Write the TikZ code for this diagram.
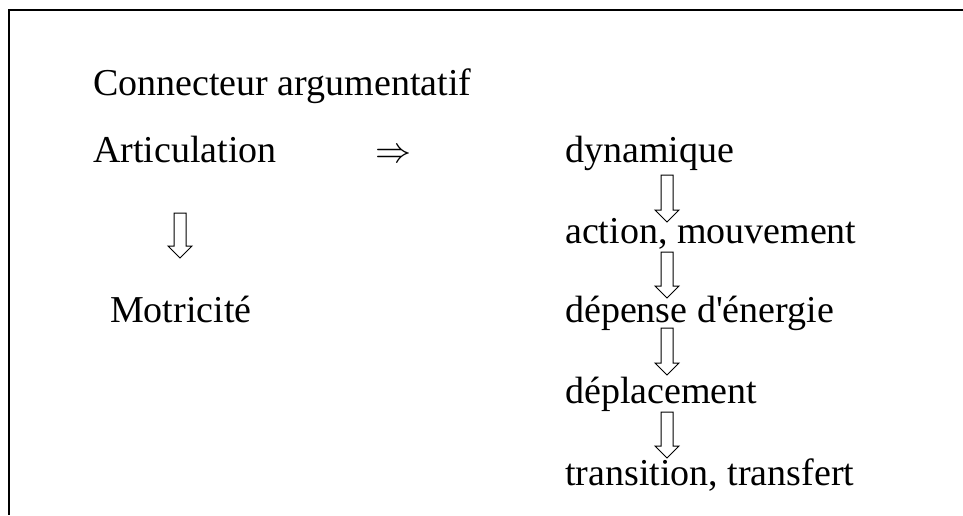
\documentclass[tikz,border=0pt]{standalone}
\usepackage{fix-cm}
\usepackage{fontspec}
\setmainfont{Liberation Serif}[Ligatures=TeXOff]
\usetikzlibrary{calc}

\tikzset{
  mot/.style={anchor=base west, inner sep=0pt, font=\fontsize{38}{44}\selectfont},
  fat/.style={line width=1pt, to path={
    let \p1=(\tikztostart), \p2=(\tikztotarget) in
    (\x1-6pt,\y1) -- (\x1+6pt,\y1) -- (\x1+6pt,\y2+12pt) -- (\x1+12pt,\y2+12pt)
    -- (\x2,\y2) -- (\x1-12pt,\y2+12pt) -- (\x1-6pt,\y2+12pt) -- cycle}}
}

\begin{document}
\begin{tikzpicture}[x=1pt, y=-1pt]
  \useasboundingbox (0,0) rectangle (963,515);
  \draw[line width=1.2pt] (963,10) -- (9,10) -- (9,515);

  \node[mot] (conn) at (93,95)  {Connecteur argumentatif};
  \node[mot] (art)  at (93,162) {Articulation};
  \node[mot, font=\fontsize{36}{44}\selectfont] (imp) at (375,162) {$\Rightarrow$};
  \node[mot] (mot)  at (110,322) {Motricité};

  \node[mot] (dyn)  at (565,162) {dynamique};
  \node[mot] (act)  at (565,243) {action, mouvement};
  \node[mot] (dep)  at (565,322) {dépense d'énergie};
  \node[mot] (depl) at (565,403) {déplacement};
  \node[mot] (tra)  at (565,485) {transition, transfert};

  % fleches creuses
  \coordinate (a0) at (180,213); \coordinate (b0) at (180,258);
  \coordinate (a1) at (667,175); \coordinate (b1) at (667,222);
  \coordinate (a2) at (667,252); \coordinate (b2) at (667,298);
  \coordinate (a3) at (667,328); \coordinate (b3) at (667,375);
  \coordinate (a4) at (667,412); \coordinate (b4) at (667,458);
  \foreach \i in {0,...,4}
    \draw[fat] (a\i) to (b\i);
\end{tikzpicture}
\end{document}
